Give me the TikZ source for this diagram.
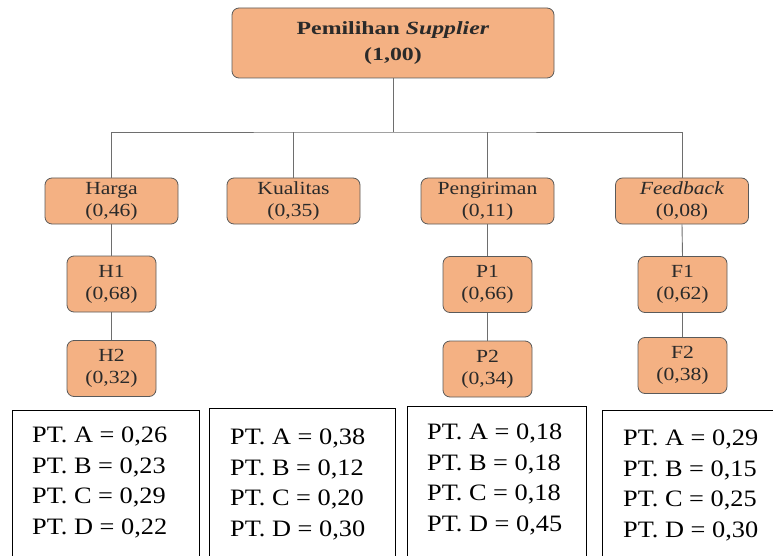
\documentclass[tikz,border=0pt]{standalone}
\usepackage{fontspec}
\setmainfont{Liberation Serif}
\newfontfamily\rootfont{Liberation Serif}[FakeStretch=1.28]
\newfontfamily\boxfont{Liberation Serif}[FakeStretch=1.17]
\newfontfamily\listfont{Liberation Serif}[FakeStretch=1.12]
\definecolor{boxfill}{HTML}{F4B183}
\definecolor{boxborder}{HTML}{5A5A5A}
\definecolor{boxtext}{HTML}{2A2A2A}
\definecolor{linecol}{HTML}{6E6E6E}
\begin{document}
\begin{tikzpicture}[x=1pt,y=-1pt,
  crit/.style={draw=boxborder, fill=boxfill, rounded corners=7pt, line width=0.8pt, inner sep=0pt, align=center, text=boxtext, font=\boxfont\fontsize{18.5}{22}\selectfont},
  lvlone/.style={crit, minimum width=133pt, minimum height=46pt},
  lvltwo/.style={crit, minimum width=89pt, minimum height=56pt},
  listbox/.style={draw=black, line width=0.9pt, anchor=north west, inner sep=0pt, minimum height=160pt},
  listtext/.style={anchor=north west, inner sep=0pt, align=left, font=\listfont\fontsize{23.5}{30.5}\selectfont},
  link/.style={draw=linecol, line width=0.9pt}]
\useasboundingbox (0,0) rectangle (773,556);
% connectors first
\coordinate (bus) at (393,132);
% nodes
\node[crit, minimum width=322pt, minimum height=70pt, font=\rootfont\bfseries\fontsize{18.6}{26}\selectfont] (root) at (393,43) {Pemilihan \textit{Supplier}\\(1,00)};
\node[lvlone] (harga) at (111.5,201) {Harga\\(0,46)};
\node[lvlone] (kual) at (293.5,201) {Kualitas\\(0,35)};
\node[lvlone] (kirim) at (487.5,201) {Pengiriman\\(0,11)};
\node[lvlone] (feed) at (682,201) {\textit{Feedback}\\(0,08)};
\node[lvltwo] (h1) at (111.5,284) {H1\\(0,68)};
\node[lvltwo] (h2) at (111.5,368.5) {H2\\(0,32)};
\node[lvltwo] (p1) at (487.5,284.5) {P1\\(0,66)};
\node[lvltwo] (p2) at (487.5,369) {P2\\(0,34)};
\node[lvltwo] (f1) at (682.5,284.5) {F1\\(0,62)};
\node[lvltwo] (f2) at (682.5,365.5) {F2\\(0,38)};
% links
\draw[link] (root.south) -- (bus);
\draw[link] (harga.north) |- (bus) -| (feed.north);
\draw[link] (kual.north) -- (kual.north |- bus);
\draw[link] (kirim.north) -- (kirim.north |- bus);
\draw[link] (harga.south) -- (h1.north);
\draw[link] (h1.south) -- (h2.north);
\draw[link] (kirim.south) -- (p1.north);
\draw[link] (p1.south) -- (p2.north);
\draw[link] (feed.south) -- (f1.north);
\draw[link] (f1.south) -- (f2.north);
% result boxes
\node[listbox, minimum width=187pt] (la) at (12,410) {};
\node[listbox, minimum width=186pt] (lb) at (209,408) {};
\node[listbox, minimum width=179pt] (lc) at (406.5,406) {};
\node[listbox, minimum width=175pt] (ld) at (602,410) {};
\node[listtext] (ta) at (32,427) {PT. A = 0,26\\PT. B = 0,23\\PT. C = 0,29\\PT. D = 0,22};
\node[listtext] (tb) at (230,429) {PT. A = 0,38\\PT. B = 0,12\\PT. C = 0,20\\PT. D = 0,30};
\node[listtext] (tc) at (427,424) {PT. A = 0,18\\PT. B = 0,18\\PT. C = 0,18\\PT. D = 0,45};
\node[listtext] (td) at (623,430) {PT. A = 0,29\\PT. B = 0,15\\PT. C = 0,25\\PT. D = 0,30};
\end{tikzpicture}
\end{document}
